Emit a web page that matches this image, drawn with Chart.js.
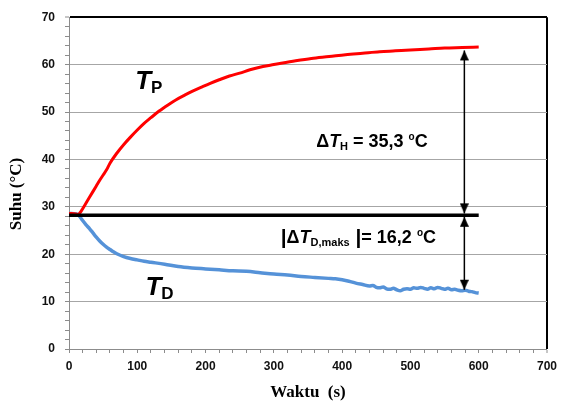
<!DOCTYPE html>
<html><head><meta charset="utf-8">
<script src="https://cdn.jsdelivr.net/npm/chart.js@4.4.1/dist/chart.umd.min.js"></script>
<style>html,body{margin:0;padding:0;background:#fff;}#wrap{width:563px;height:405px;}</style>
</head><body><div id="wrap"><canvas id="c" width="563" height="405"></canvas></div>
<script>
// ---- data ----
const timeTP = [0,10,13,17,20,25,30,35,40,45,50,55,60,70,80,90,100,110,120,132,145,157,170,181,195,206,220,235,250,265,284,300,332,355,381,405,430,455,478,500,527,550,576,600];
const tempTP = [28.6,28.5,28.4,28.9,29.6,30.8,32.0,33.2,34.4,35.6,36.7,37.8,39.2,41.3,43.1,44.7,46.2,47.6,48.8,50.2,51.5,52.6,53.6,54.4,55.3,56.0,56.8,57.6,58.2,58.9,59.6,60.0,60.8,61.3,61.7,62.1,62.4,62.7,62.9,63.1,63.3,63.5,63.6,63.7];
const timeTD = [0,10,13,17,20,25,30,35,40,45,50,55,60,65,70,80,90,100,110,120,140,160,180,200,220,240,260,280,300,320,340,360,380,390,400,410,420,430,440,445,450,455,460,465,470,475,480,485,490,495,500,505,510,515,520,525,530,535,540,545,550,555,560,565,570,575,580,585,590,595,600];
const tempTD = [28.6,28.5,28.4,27.7,27.1,26.2,25.4,24.5,23.6,22.8,22.1,21.5,21.0,20.5,20.1,19.5,19.1,18.8,18.5,18.3,17.9,17.4,17.1,16.9,16.7,16.5,16.4,16.1,15.8,15.6,15.3,15.1,14.9,14.8,14.6,14.3,13.9,13.6,13.3,13.4,13.0,12.9,13.1,12.7,12.6,12.8,12.5,12.3,12.6,12.7,12.6,12.9,12.8,13.0,12.8,12.6,12.9,12.7,13.0,12.8,12.6,12.8,12.5,12.6,12.4,12.3,12.4,12.2,12.1,11.9,11.8];
const baselineTime = [0, 600];
const baselineTemp = [28.2, 28.2];
const arrowTime = [579, 579];
const arrowUpper = [63.0, 28.6];
const arrowLower = [27.9, 12.5];
const xMajorTicks = [0,100,200,300,400,500,600,700];
const yMajorTicks = [0,10,20,30,40,50,60,70];

// ---- helpers ----
const pts = (xs, ys) => xs.map((x, i) => ({x, y: ys[i]}));
const SANS = '"Liberation Sans", Arial, sans-serif';
const SERIF = '"Liberation Serif", "Times New Roman", serif';

// arrow head image: tip at the image centre, body below it (points up)
function makeHead() {
  const cv = document.createElement('canvas');
  cv.width = 9; cv.height = 22;
  const g = cv.getContext('2d');
  g.fillStyle = '#000';
  g.beginPath(); g.moveTo(4.5, 11); g.lineTo(9, 21); g.lineTo(0, 21); g.closePath(); g.fill();
  return cv;
}
const head = makeHead();

const textLabels = [
  {x: 97, y: 54.9, runs: [['T', 'italic bold 26px ' + SANS, 0], ['P', 'bold 17px ' + SANS, 4]]},
  {x: 112, y: 11.4, runs: [['T', 'italic bold 26px ' + SANS, 0], ['D', 'bold 17px ' + SANS, 4]]},
  {x: 362, y: 42.7, runs: [['\u0394', 'bold 18px ' + SANS, 0], ['T', 'italic bold 18px ' + SANS, 0], ['H', 'bold 11px ' + SANS, 3], [' = 35,3 ', 'bold 18px ' + SANS, 0], ['o', 'bold 10px ' + SANS, -7], ['C', 'bold 18px ' + SANS, 0]]},
  {x: 310, y: 22.3, runs: [['|', 'bold 21px ' + SANS, 1], ['\u0394', 'bold 18px ' + SANS, 0], ['T', 'italic bold 18px ' + SANS, 0], ['D,maks', 'bold 11px ' + SANS, 3], [' |', 'bold 21px ' + SANS, 1], ['= 16,2 ', 'bold 18px ' + SANS, 0], ['o', 'bold 10px ' + SANS, -7], ['C', 'bold 18px ' + SANS, 0]]}
];

const labelPlugin = {
  id: 'labels',
  afterDatasetsDraw(chart) {
    const {ctx, scales: {x, y}} = chart;
    ctx.save();
    ctx.fillStyle = '#000';
    ctx.textBaseline = 'alphabetic';
    ctx.textAlign = 'left';
    textLabels.forEach(l => {
      let px = x.getPixelForValue(l.x);
      const py = y.getPixelForValue(l.y);
      l.runs.forEach(([t, f, dy]) => {
        ctx.font = f;
        ctx.fillText(t, px, py + dy);
        px += ctx.measureText(t).width;
      });
    });
    // y axis title
    ctx.translate(17, 194);
    ctx.rotate(-Math.PI / 2);
    ctx.textAlign = 'center';
    ctx.textBaseline = 'middle';
    ctx.font = 'bold 17px ' + SERIF;
    ctx.fillText('Suhu (\u00B0C)', 0, 0);
    ctx.restore();
  }
};

const GRID = '#a6a6a6';
const AXIS = '#8c8c8c';

new Chart(document.getElementById('c'), {
  type: 'line',
  data: {
    datasets: [
      {data: pts(arrowTime, arrowUpper), borderColor: '#000', borderWidth: 1.5, pointStyle: head, pointRadius: 4,
       pointRotation: c => c.dataIndex === 0 ? 0 : 180, tension: 0},
      {data: pts(arrowTime, arrowLower), borderColor: '#000', borderWidth: 1.5, pointStyle: head, pointRadius: 4,
       pointRotation: c => c.dataIndex === 0 ? 0 : 180, tension: 0},
      {data: pts(baselineTime, baselineTemp), borderColor: '#000', borderWidth: 3.5, pointRadius: 0, borderCapStyle: 'butt'},
      {label: 'TP', data: pts(timeTP, tempTP), borderColor: '#ff0000', borderWidth: 3, pointRadius: 0, cubicInterpolationMode: 'monotone'},
      {label: 'TD', data: pts(timeTD, tempTD), borderColor: '#5592d8', borderWidth: 3.5, pointRadius: 0, cubicInterpolationMode: 'monotone'}
    ]
  },
  options: {
    responsive: false,
    animation: false,
    events: [],
    layout: {padding: {top: 9, right: 5, left: 0, bottom: 0}},
    plugins: {legend: {display: false}, tooltip: {enabled: false}},
    scales: {
      x: {
        type: 'linear', min: 0, max: 700,
        afterFit: s => { s.height = 56; },
        ticks: {stepSize: 20, autoSkip: false, maxRotation: 0, padding: 6, color: '#111',
          font: {family: SANS, size: 12, weight: 'bold'},
          callback: v => xMajorTicks.includes(v) ? String(v) : ''},
        grid: {
          color: c => c.tick && c.tick.value === 700 ? '#000' : 'rgba(0,0,0,0)',
          lineWidth: c => c.tick && c.tick.value === 700 ? 2 : 1,
          tickColor: AXIS, tickLength: 4, tickWidth: 1
        },
        border: {color: AXIS, width: 1},
        title: {display: true, text: 'Waktu  (s)', color: '#000', font: {family: SERIF, size: 17, weight: 'bold'}, padding: {top: 0, bottom: 2}}
      },
      y: {
        type: 'linear', min: 0, max: 70,
        afterFit: s => { s.width = 69; },
        ticks: {stepSize: 2, autoSkip: false, padding: 10, color: '#111',
          font: {family: SANS, size: 12, weight: 'bold'},
          callback: v => yMajorTicks.includes(v) ? String(v) : ''},
        grid: {
          color: c => !c.tick ? 'rgba(0,0,0,0)' : c.tick.value === 70 ? '#000' : (c.tick.value % 10 === 0 ? GRID : 'rgba(0,0,0,0)'),
          lineWidth: c => c.tick && c.tick.value === 70 ? 2 : 1,
          tickColor: AXIS, tickLength: 4, tickWidth: 1
        },
        border: {color: AXIS, width: 1}
      }
    }
  },
  plugins: [labelPlugin]
});
</script>
</body></html>
